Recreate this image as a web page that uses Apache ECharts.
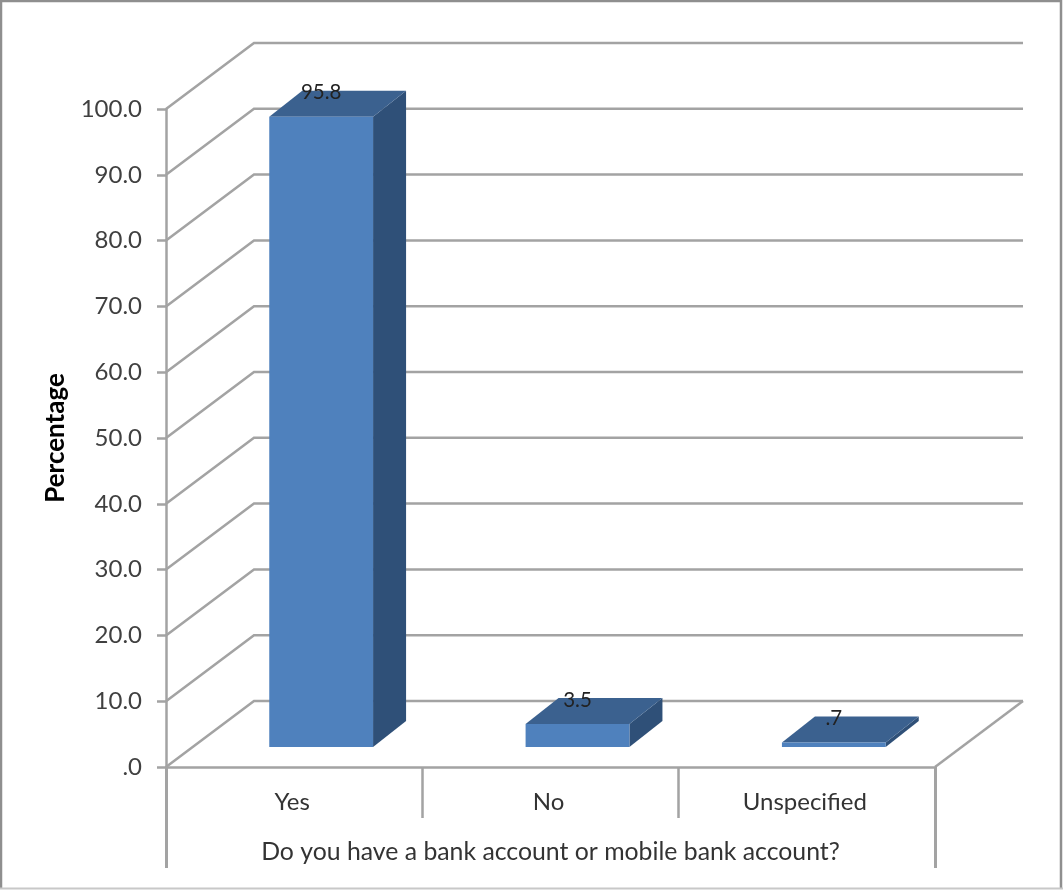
<!DOCTYPE html>
<html>
<head>
<meta charset="utf-8">
<style>html,body{margin:0;padding:0;background:#fff}#chart{width:1063px;height:890px}</style>
<script src="https://cdn.jsdelivr.net/npm/echarts@6/dist/echarts.min.js"></script>
</head>
<body>
<div id="chart"></div>
<script>
// Survey responses, in percent
const categories = ['Yes', 'No', 'Unspecified'];
const percentages = [95.8, 3.5, 0.7];
const yTicks = [0, 10, 20, 30, 40, 50, 60, 70, 80, 90, 100];

// Oblique projection of the 3D chart box, in pixels
const WALL_DX = 88, WALL_DY = -66;
const BAR_SHIFT_X = 27, BAR_SHIFT_Y = -20;
const BAR_DX = 33, BAR_DY = -26;
const BAR_BAND = 0.405;
const STUB = 101;

const GRID_COLOR = '#a3a3a3';
const GRID_WIDTH = 2.5;
const fmt = v => v.toFixed(1).replace(/^0/, '');

function poly(points, fill, z2) {
  return { type: 'polygon', z2: z2, shape: { points: points }, style: { fill: fill } };
}

// One gridline per tick: the left wall diagonal plus the back wall run
function renderWall(params, api) {
  const cs = params.coordSys;
  const v = api.value(0);
  const y = api.coord([0, v])[1];
  const x0 = cs.x, x1 = cs.x + cs.width;
  const children = [{
    type: 'polyline',
    shape: { points: [[x0, y], [x0 + WALL_DX, y + WALL_DY], [x1 + WALL_DX, y + WALL_DY]] },
    style: { fill: 'none', stroke: GRID_COLOR, lineWidth: GRID_WIDTH }
  }];
  if (v === 0) {
    // floor edge on the right, and the outer frame of the category table
    children.push(
      { type: 'line', shape: { x1: x1, y1: y, x2: x1 + WALL_DX, y2: y + WALL_DY },
        style: { stroke: GRID_COLOR, lineWidth: GRID_WIDTH } },
      { type: 'line', shape: { x1: x0 + 0.5, y1: y, x2: x0 + 0.5, y2: y + STUB },
        style: { stroke: GRID_COLOR, lineWidth: 3 } },
      { type: 'line', shape: { x1: x1 + 0.5, y1: y, x2: x1 + 0.5, y2: y + STUB },
        style: { stroke: GRID_COLOR, lineWidth: 3 } }
    );
  }
  return { type: 'group', children: children };
}

// Extruded column with front, top and side faces and its value label
function renderBar(params, api) {
  const i = api.value(0), v = api.value(1);
  const base = api.coord([i, 0]);
  const top = api.coord([i, v]);
  const w = api.size([1, 0])[0] * BAR_BAND;
  const l = base[0] + BAR_SHIFT_X - w / 2, r = l + w;
  const yb = base[1] + BAR_SHIFT_Y, yt = top[1] + BAR_SHIFT_Y;
  return {
    type: 'group',
    children: [
      poly([[r, yb], [r + BAR_DX, yb + BAR_DY], [r + BAR_DX, yt + BAR_DY], [r, yt]], '#2f5078', 1),
      poly([[l, yt], [l + BAR_DX, yt + BAR_DY], [r + BAR_DX, yt + BAR_DY], [r, yt]], '#3b618f', 2),
      { type: 'rect', z2: 3, shape: { x: l, y: yt, width: w, height: yb - yt },
        style: { fill: '#4f81bd' } },
      { type: 'text', z2: 4, x: (l + r) / 2, y: yt - 24,
        style: { text: fmt(v), font: '20.5px Lato', fill: '#222', align: 'center', verticalAlign: 'middle' } }
    ]
  };
}

const chart = echarts.init(document.getElementById('chart'));
chart.setOption({
  animation: false,
  backgroundColor: '#fff',
  graphic: [
    { type: 'polyline', z: 100, shape: { points: [[1, 889], [1, 1], [1061, 1], [1061, 889]] },
      style: { fill: 'none', stroke: '#8f8f8f', lineWidth: 2.5 } },
    { type: 'line', z: 100, shape: { x1: 0, y1: 888.5, x2: 1063, y2: 888.5 },
      style: { stroke: '#c8c8c8', lineWidth: 2 } }
  ],
  grid: { left: 166, top: 109, width: 769, height: 658 },
  xAxis: {
    type: 'category',
    data: categories,
    name: 'Do you have a bank account or mobile bank account?',
    nameLocation: 'middle',
    nameGap: 73,
    nameTextStyle: { fontFamily: 'Lato', fontSize: 24.8, color: '#333' },
    axisLine: { lineStyle: { color: GRID_COLOR, width: GRID_WIDTH } },
    axisTick: { show: true, length: 51, lineStyle: { color: GRID_COLOR, width: GRID_WIDTH } },
    axisLabel: { fontFamily: 'Lato', fontSize: 24, color: '#333', margin: 23, interval: 0, padding: [0, 4, 0, 0] }
  },
  yAxis: {
    type: 'value',
    min: 0,
    max: 100,
    interval: 10,
    name: 'Percentage',
    nameLocation: 'middle',
    nameRotate: 90,
    nameGap: 97,
    nameTextStyle: { fontFamily: 'Lato', fontSize: 26, fontWeight: 'bold', color: '#000' },
    axisLine: { show: true, lineStyle: { color: GRID_COLOR, width: GRID_WIDTH } },
    axisTick: { show: true, length: 9, lineStyle: { color: GRID_COLOR, width: GRID_WIDTH } },
    axisLabel: { fontFamily: 'Lato', fontSize: 24, color: '#404040', margin: 24, formatter: fmt, padding: [5, 0, 0, 0] },
    splitLine: { show: false }
  },
  series: [
    {
      type: 'custom',
      clip: false,
      z: 1,
      silent: true,
      renderItem: renderWall,
      encode: { y: 0 },
      data: yTicks.map(t => [t])
    },
    {
      type: 'custom',
      clip: false,
      z: 3,
      renderItem: renderBar,
      encode: { x: 0, y: 1 },
      data: percentages.map((p, i) => [i, p])
    }
  ]
});
</script>
</body>
</html>
